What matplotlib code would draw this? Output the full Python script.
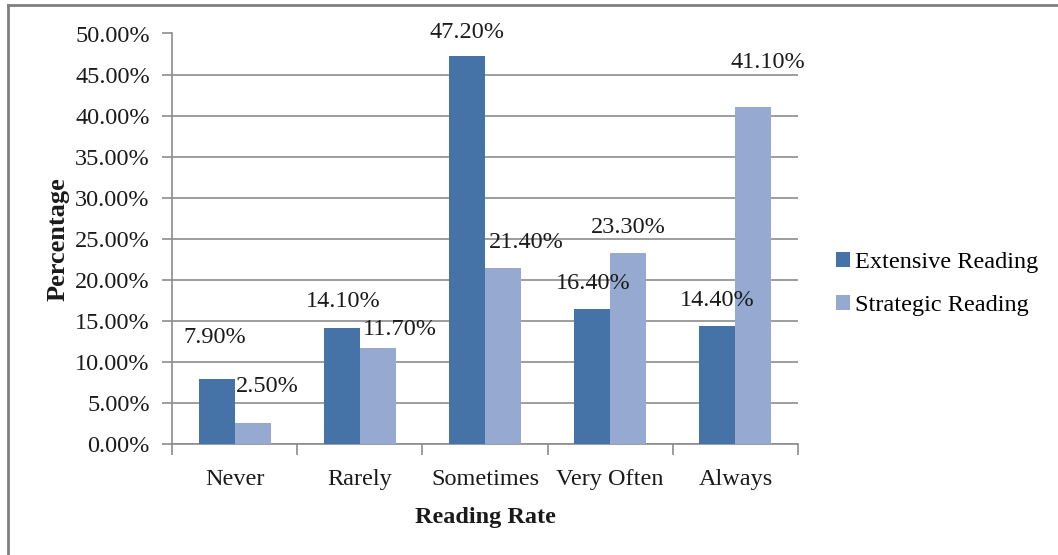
import matplotlib
matplotlib.use('Agg')
import matplotlib.pyplot as plt
from matplotlib.lines import Line2D
from matplotlib.ticker import FixedLocator

categories = ["Never", "Rarely", "Sometimes", "Very Often", "Always"]
extensive = [7.90, 14.10, 47.20, 16.40, 14.40]
strategic = [2.50, 11.70, 21.40, 23.30, 41.10]
series_names = ["Extensive Reading", "Strategic Reading"]

# label nudges (pixels, dx right / dy up from bar top) as in the original figure
ext_nudge = [(-2, 42), (1, 27), (0, 24), (1, 26), (0, 25)]
str_nudge = [(15, 37), (22, 18), (23, 26), (0, 25), (14, 44)]

plt.rcParams['font.family'] = ['Liberation Serif', 'DejaVu Serif']
DPI = 100
fig = plt.figure(figsize=(10.58, 5.55), dpi=DPI)
ax = fig.add_axes([172 / 1058, 1 - 444 / 555, 626 / 1058, 410.5 / 555])

c_ext = "#4572A7"
c_str = "#95A9D1"
grey = "#8C8C8C"
txt = "#1a1a1a"
fs = 17.5
bw = 0.288
x = list(range(len(categories)))

b1 = ax.bar([i - bw / 2 for i in x], extensive, bw, color=c_ext, label=series_names[0], zorder=3)
b2 = ax.bar([i + bw / 2 for i in x], strategic, bw, color=c_str, label=series_names[1], zorder=3)

px = 72.0 / DPI
for bars, vals, nudges in ((b1, extensive, ext_nudge), (b2, strategic, str_nudge)):
    for bar, v, (dx, dy) in zip(bars, vals, nudges):
        ax.annotate(f"{v:.2f}%", (bar.get_x() + bar.get_width() / 2, v),
                    xytext=(dx * px, dy * px), textcoords='offset points',
                    ha='center', va='center', fontsize=fs, color=txt, zorder=4)

ax.set_xlim(-0.5, len(categories) - 0.5)
ax.set_ylim(0, 50)
yt = [0, 5, 10, 15, 20, 25, 30, 35, 40, 45, 50]
ax.set_yticks(yt)
ax.set_yticklabels([f"{v:.2f}%" for v in yt])
ax.yaxis.grid(True, color=grey, linewidth=1.2, zorder=0)
ax.set_axisbelow(True)

ax.set_xticks(x)
ax.set_xticklabels(categories)
ax.xaxis.set_minor_locator(FixedLocator([i - 0.5 for i in range(len(categories) + 1)]))
ax.tick_params(axis='x', which='major', length=0, pad=18, labelsize=fs, colors=txt)
ax.tick_params(axis='x', which='minor', length=8, width=1.2, color=grey, direction='out')
ax.tick_params(axis='y', length=7, width=1.2, color=grey, pad=9, labelsize=fs, labelcolor=txt)

for s in ('top', 'right'):
    ax.spines[s].set_visible(False)
for s in ('left', 'bottom'):
    ax.spines[s].set_color(grey)
    ax.spines[s].set_linewidth(1.2)

ax.set_xlabel("Reading Rate", fontsize=17.5, fontweight='bold', labelpad=12, color=txt)
ax.set_ylabel("Percentage", fontsize=19, fontweight='bold', labelpad=4, color=txt)

fig.legend(handles=[b1, b2], loc='center left', bbox_to_anchor=(826 / 1058, 1 - 284 / 555),
           frameon=False, fontsize=fs, handlelength=0.6, handleheight=0.6,
           handletextpad=0.2, labelspacing=0.9, borderaxespad=0)

# outer frame of the chart area
fig.add_artist(Line2D([8 / 1058, 8 / 1058], [0, 1 - 5 / 555], transform=fig.transFigure,
                      color='#808080', linewidth=2))
fig.add_artist(Line2D([8 / 1058, 1], [1 - 5 / 555, 1 - 5 / 555], transform=fig.transFigure,
                      color='#808080', linewidth=2))

fig.savefig("out.png", dpi=DPI)
